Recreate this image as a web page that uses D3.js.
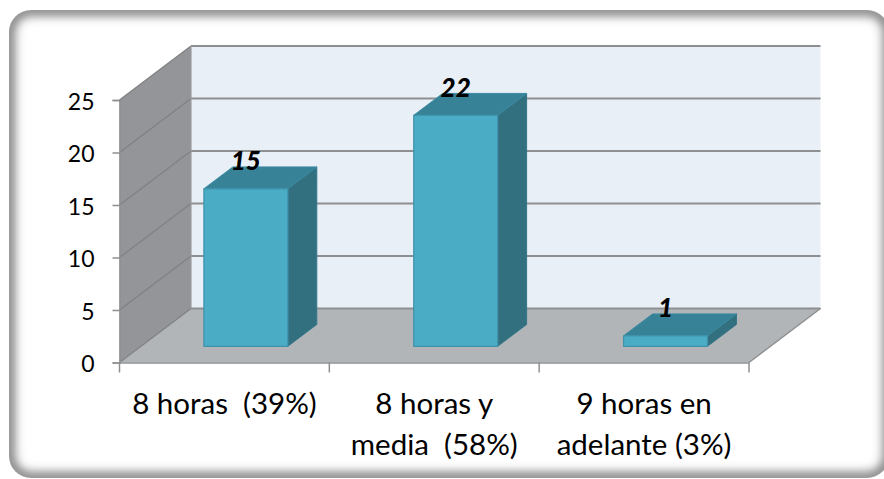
<!DOCTYPE html>
<html><head><meta charset="utf-8">
<script src="https://cdn.jsdelivr.net/npm/d3@7/dist/d3.min.js"></script>
<style>html,body{margin:0;padding:0;background:#fff}svg{display:block}text{font-family:Lato,"Open Sans",sans-serif;fill:#000}</style>
</head><body><svg id="c" width="884" height="479"></svg>
<script>
const categories = ["8 horas  (39%)", "8 horas y|media  (58%)", "9 horas en|adelante (3%)"];
const values = [15, 22, 1];
const yTicks = [0, 5, 10, 15, 20, 25];

const svg = d3.select("#c");
const W = 884, H = 479;
const x = d3.scaleBand().domain(categories).range([119.5, 749]);
const y = d3.scaleLinear().domain([0, 25]).range([362.5, 100]);
// depth: 0 = front plane of the chart, 1 = back wall
const dx = d3.scaleLinear().domain([0, 1]).range([0, 71.5]);
const dy = d3.scaleLinear().domain([0, 1]).range([0, -54]);
const P = (px, py, d) => [px + dx(d), py + dy(d)];
const poly = pts => "M" + pts.map(p => p.join(",")).join("L") + "Z";
const [x0, x1] = x.range();
const [y0, y1] = y.range();

// frame
const defs = svg.append("defs");
defs.append("filter").attr("id", "blur").attr("x", "-5%").attr("y", "-5%").attr("width", "110%").attr("height", "110%")
  .append("feGaussianBlur").attr("stdDeviation", 5.5);
defs.append("clipPath").attr("id", "frameClip").append("rect")
  .attr("x", 9).attr("y", 10).attr("width", 880).attr("height", 468).attr("rx", 22);
svg.append("rect").attr("width", W).attr("height", H).attr("fill", "#fff");
const fr = svg.append("g").attr("clip-path", "url(#frameClip)");
fr.append("rect").attr("x", 9).attr("y", 10).attr("width", 880).attr("height", 468).attr("rx", 22)
  .attr("fill", "#fff");
fr.append("rect").attr("x", 9).attr("y", 10).attr("width", 880).attr("height", 468).attr("rx", 22)
  .attr("fill", "none").attr("stroke", "#666").attr("stroke-width", 10).attr("filter", "url(#blur)");

// walls
const wall = "#939598", floor = "#b2b5b8", back = "#e8eff7", gridC = "#8e8f90";
svg.append("path").attr("d", poly([[x0, y0], [x0, y1], P(x0, y1, 1), P(x0, y0, 1)])).attr("fill", wall);
svg.append("path").attr("d", poly([[x0, y0], [x1, y0], P(x1, y0, 1), P(x0, y0, 1)])).attr("fill", floor);
svg.append("path").attr("d", poly([P(x0, y0, 1), P(x0, y1, 1), P(x1, y1, 1), P(x1, y0, 1)])).attr("fill", back);

// grid
const grid = svg.append("g").attr("fill", "none").attr("stroke", gridC);
yTicks.forEach(t => {
  const a = [x0, y(t)], b = P(x0, y(t), 1), c = P(x1, y(t), 1);
  grid.append("path").attr("d", `M${a}L${b}`).attr("stroke-width", 1.3).attr("stroke", "#808183");
  grid.append("path").attr("d", `M${b}L${c}`).attr("stroke-width", 2);
});
grid.append("path").attr("d", `M${P(x1, y0, 1)}L${[x1, y0]}`).attr("stroke-width", 1.5);
grid.append("path").attr("d", `M${P(x0, y0, 1)}L${P(x0, y1, 1)}`).attr("stroke-width", 1.2).attr("stroke", "#9a9b9d");

// bars
const barW = x.bandwidth() * 0.4;
const dNear = 0.3, dFar = 0.705;
const bars = svg.append("g").selectAll("g").data(categories.map((c, i) => ({ c, v: values[i] }))).join("g");
const edge = "#3f93ab";
bars.each(function (d) {
  const g = d3.select(this);
  const l = x(d.c) + (x.bandwidth() - barW) / 2, r = l + barW;
  const fb = P(l, y(0), dNear), ft = P(l, y(d.v), dNear);
  const frb = P(r, y(0), dNear), frt = P(r, y(d.v), dNear);
  const bt = P(l, y(d.v), dFar), brt = P(r, y(d.v), dFar), brb = P(r, y(0), dFar);
  g.append("path").attr("d", poly([frb, frt, brt, brb])).attr("fill", "#326f7f").attr("stroke", "#34778a").attr("stroke-width", 1);
  g.append("path").attr("d", poly([ft, bt, brt, frt])).attr("fill", "#388298").attr("stroke", "#3a8aa1").attr("stroke-width", 1);
  g.append("path").attr("d", poly([fb, ft, frt, frb])).attr("fill", "#4bacc6").attr("stroke", edge).attr("stroke-width", 1.2);
});

// axes
const yAxis = d3.axisLeft(y).tickValues(yTicks).tickSize(7).tickPadding(18);
const yg = svg.append("g").attr("transform", `translate(${x0},0)`).call(yAxis);
yg.select(".domain").attr("stroke", "#8e8f90").attr("stroke-width", 1.5);
yg.selectAll(".tick line").attr("stroke", "#8e8f90").attr("stroke-width", 1.5);
yg.selectAll("text").style("font-size", "23px").style("fill", "#000").attr("font-family", null).attr("dy", "0.4em");

const xt = d3.axisBottom(x).tickValues(x.domain()).tickFormat("").tickSize(0);
const xg = svg.append("g").attr("transform", `translate(0,${y0})`).call(xt);
xg.select(".domain").attr("stroke", "#8e8f90").attr("stroke-width", 1.5);
const edges = [x0].concat(categories.map(c => x(c) + x.bandwidth()));
svg.append("g").selectAll("line").data(edges).join("line")
  .attr("x1", d => d).attr("x2", d => d).attr("y1", y0).attr("y2", y0 + 10)
  .attr("stroke", "#8e8f90").attr("stroke-width", 1.5);

// category labels
svg.append("g").selectAll("text").data(categories).join("text")
  .attr("text-anchor", "middle").style("font-size", "29.5px")
  .attr("transform", d => `translate(${x(d) + x.bandwidth() / 2},0)`)
  .each(function (d) {
    d.split("|").forEach((s, i) => d3.select(this).append("tspan")
      .attr("x", 0).attr("y", y0 + 51 + i * 41).style("white-space", "pre").text(s));
  });

// data labels
svg.append("g").selectAll("text").data(values).join("text")
  .attr("text-anchor", "middle").style("font-size", "26px").style("font-weight", "900").style("font-style", "italic")
  .attr("x", (d, i) => x(categories[i]) + x.bandwidth() / 2 + dx(dNear))
  .attr("y", d => y(d) - 19 - 16)
  .text(d => d);
</script></body></html>
